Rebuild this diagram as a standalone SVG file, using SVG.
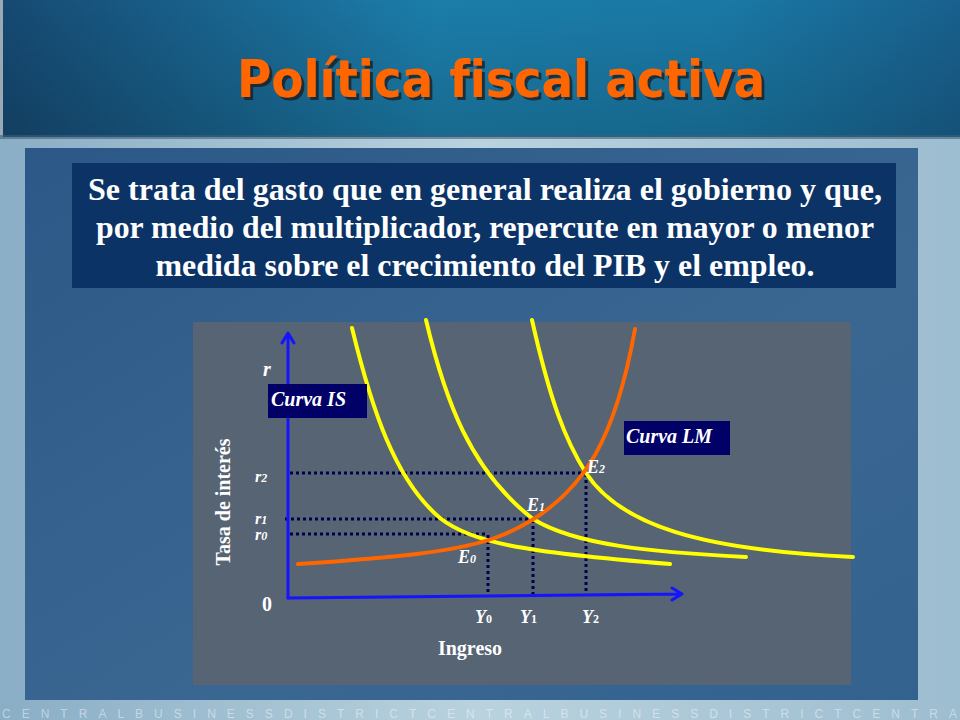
<svg xmlns="http://www.w3.org/2000/svg" width="960" height="720" viewBox="0 0 960 720">
  <defs>
    <linearGradient id="hdr" x1="0" y1="0" x2="1" y2="0">
      <stop offset="0" stop-color="#174d78"/>
      <stop offset="0.45" stop-color="#1d84b3"/>
      <stop offset="0.75" stop-color="#1b7fae"/>
      <stop offset="1" stop-color="#1a6595"/>
    </linearGradient>
    <linearGradient id="hdrV" x1="0" y1="0" x2="0" y2="1">
      <stop offset="0" stop-color="#000" stop-opacity="0.05"/>
      <stop offset="1" stop-color="#000" stop-opacity="0.2"/>
    </linearGradient>
    <linearGradient id="outer" x1="0" y1="0" x2="1" y2="0">
      <stop offset="0" stop-color="#8aaec6"/>
      <stop offset="0.5" stop-color="#b9d2de"/>
      <stop offset="1" stop-color="#9dbdd0"/>
    </linearGradient>
    <linearGradient id="panel" x1="0" y1="0" x2="1" y2="1">
      <stop offset="0" stop-color="#2c5887"/>
      <stop offset="0.6" stop-color="#3a6792"/>
      <stop offset="1" stop-color="#34628f"/>
    </linearGradient>
    <filter id="shadow" x="-5%" y="-20%" width="110%" height="150%">
      <feDropShadow dx="3" dy="3" stdDeviation="0.6" flood-color="#1a1a1a" flood-opacity="0.75"/>
    </filter>
    <style>
      .desc { font-family: "Liberation Serif", "Times New Roman", serif; font-weight: bold; font-size: 31px; fill: #ffffff; text-anchor: middle; }
      .lbl { font-family: "Liberation Serif", "Times New Roman", serif; font-weight: bold; font-size: 18px; fill: #ffffff; }
      .big { font-size: 20px; }
      .rl { font-size: 16px; }
      .it { font-style: italic; }
      .sub { font-size: 12px; }
      .box { fill: #000066; }
      .is { fill: none; stroke: #ffff00; stroke-width: 4; stroke-linecap: round; }
      .lm { fill: none; stroke: #ff6600; stroke-width: 4; stroke-linecap: round; }
      .axis { fill: none; stroke: #1414ff; stroke-width: 3; stroke-linecap: round; stroke-linejoin: round; }
      .guide { fill: none; stroke: #00004d; stroke-width: 3; stroke-dasharray: 3 3; }
    </style>
  </defs>

  <!-- background -->
  <rect x="0" y="0" width="960" height="720" fill="url(#outer)"/>
  <rect x="0" y="0" width="960" height="137" fill="url(#hdr)"/>
  <rect x="0" y="0" width="960" height="137" fill="url(#hdrV)"/>
  <rect x="0" y="0" width="3" height="137" fill="#9aa9b3"/>
  <rect x="0" y="135" width="960" height="4" fill="#3f5f78" opacity="0.6"/>
  <rect x="25" y="148" width="893" height="552" fill="url(#panel)"/>
  <text x="2" y="718" font-family="'Liberation Sans', Arial, sans-serif" font-size="12" fill="#ffffff" fill-opacity="0.45" textLength="955" lengthAdjust="spacing">CENTRALBUSINESSDISTRICTCENTRALBUSINESSDISTRICTCENTRA</text>

  <g id="title">
    <text x="501" y="97" filter="url(#shadow)" font-family="'DejaVu Sans', Verdana, sans-serif" font-weight="bold" font-size="52" fill="#ff6600" text-anchor="middle" textLength="528" lengthAdjust="spacingAndGlyphs" style="font-variant-ligatures: none; font-feature-settings: 'liga' 0;">Política fiscal activa</text>
  </g>

  <g id="description">
    <rect x="72" y="163" width="824" height="125" fill="#0c3366"/>
    <text class="desc" x="485" y="200" textLength="794" lengthAdjust="spacingAndGlyphs">Se trata del gasto que en general realiza el gobierno y que,</text>
    <text class="desc" x="485" y="238" textLength="778" lengthAdjust="spacingAndGlyphs">por medio del multiplicador, repercute en mayor o menor</text>
    <text class="desc" x="485" y="276" textLength="659" lengthAdjust="spacingAndGlyphs">medida sobre el crecimiento del PIB y el empleo.</text>
  </g>

  <g id="chart-panel">
    <rect x="193" y="322" width="658" height="363" fill="#566474"/>
  </g>

  <g id="connectors">
    <path class="guide" d="M290,473 H585"/>
    <path class="guide" d="M285,519 H533"/>
    <path class="guide" d="M290,534 H488"/>
    <path class="guide" d="M488,535 V596"/>
    <path class="guide" d="M533,520 V596"/>
    <path class="guide" d="M586,474 V595"/>
    <path class="axis" d="M288,598 V333 M282,343 L288,333 L294,343"/>
    <path class="axis" d="M288,598 L682,594 M672,588 L682,594 L672,600"/>
  </g>

  <g id="curve-is0"><path class="is" d="M352,328 C372,410 395,480 440,518 C470,542 520,552 670,564"/></g>
  <g id="curve-is1"><path class="is" d="M426,320 C445,400 470,470 533,519 C575,545 650,552 746,557"/></g>
  <g id="curve-is2"><path class="is" d="M532,320 C550,400 565,440 586,473 C620,525 700,550 853,557"/></g>
  <g id="curve-lm"><path class="lm" d="M298,564 C390,558 460,552 500,536 C545,518 575,490 595,455 C612,425 625,385 635,329"/></g>

  <g id="label-is">
    <rect class="box" x="268" y="384" width="99" height="34"/>
    <text class="lbl big it" x="271" y="406">Curva IS</text>
  </g>
  <g id="label-lm">
    <rect class="box" x="624" y="421" width="106" height="34"/>
    <text class="lbl big it" x="626" y="443">Curva LM</text>
  </g>

  <g id="axis-labels">
    <text class="lbl big it" x="263" y="376">r</text>
    <text class="lbl big" x="262" y="611">0</text>
    <text class="lbl big" x="0" y="0" text-anchor="middle" transform="translate(230,502) rotate(-90)">Tasa de interés</text>
    <text class="lbl big" x="470" y="655" text-anchor="middle">Ingreso</text>
    <text class="lbl rl it" x="255" y="482">r<tspan class="sub">2</tspan></text>
    <text class="lbl rl it" x="255" y="524">r<tspan class="sub">1</tspan></text>
    <text class="lbl rl it" x="255" y="540">r<tspan class="sub">0</tspan></text>
    <text class="lbl it" x="475" y="623">Y<tspan class="sub" font-style="normal">0</tspan></text>
    <text class="lbl it" x="520" y="623">Y<tspan class="sub" font-style="normal">1</tspan></text>
    <text class="lbl it" x="582" y="623">Y<tspan class="sub" font-style="normal">2</tspan></text>
    <text class="lbl it" x="458" y="563">E<tspan class="sub">0</tspan></text>
    <text class="lbl it" x="527" y="511">E<tspan class="sub">1</tspan></text>
    <text class="lbl it" x="587" y="473">E<tspan class="sub">2</tspan></text>
  </g>
</svg>
